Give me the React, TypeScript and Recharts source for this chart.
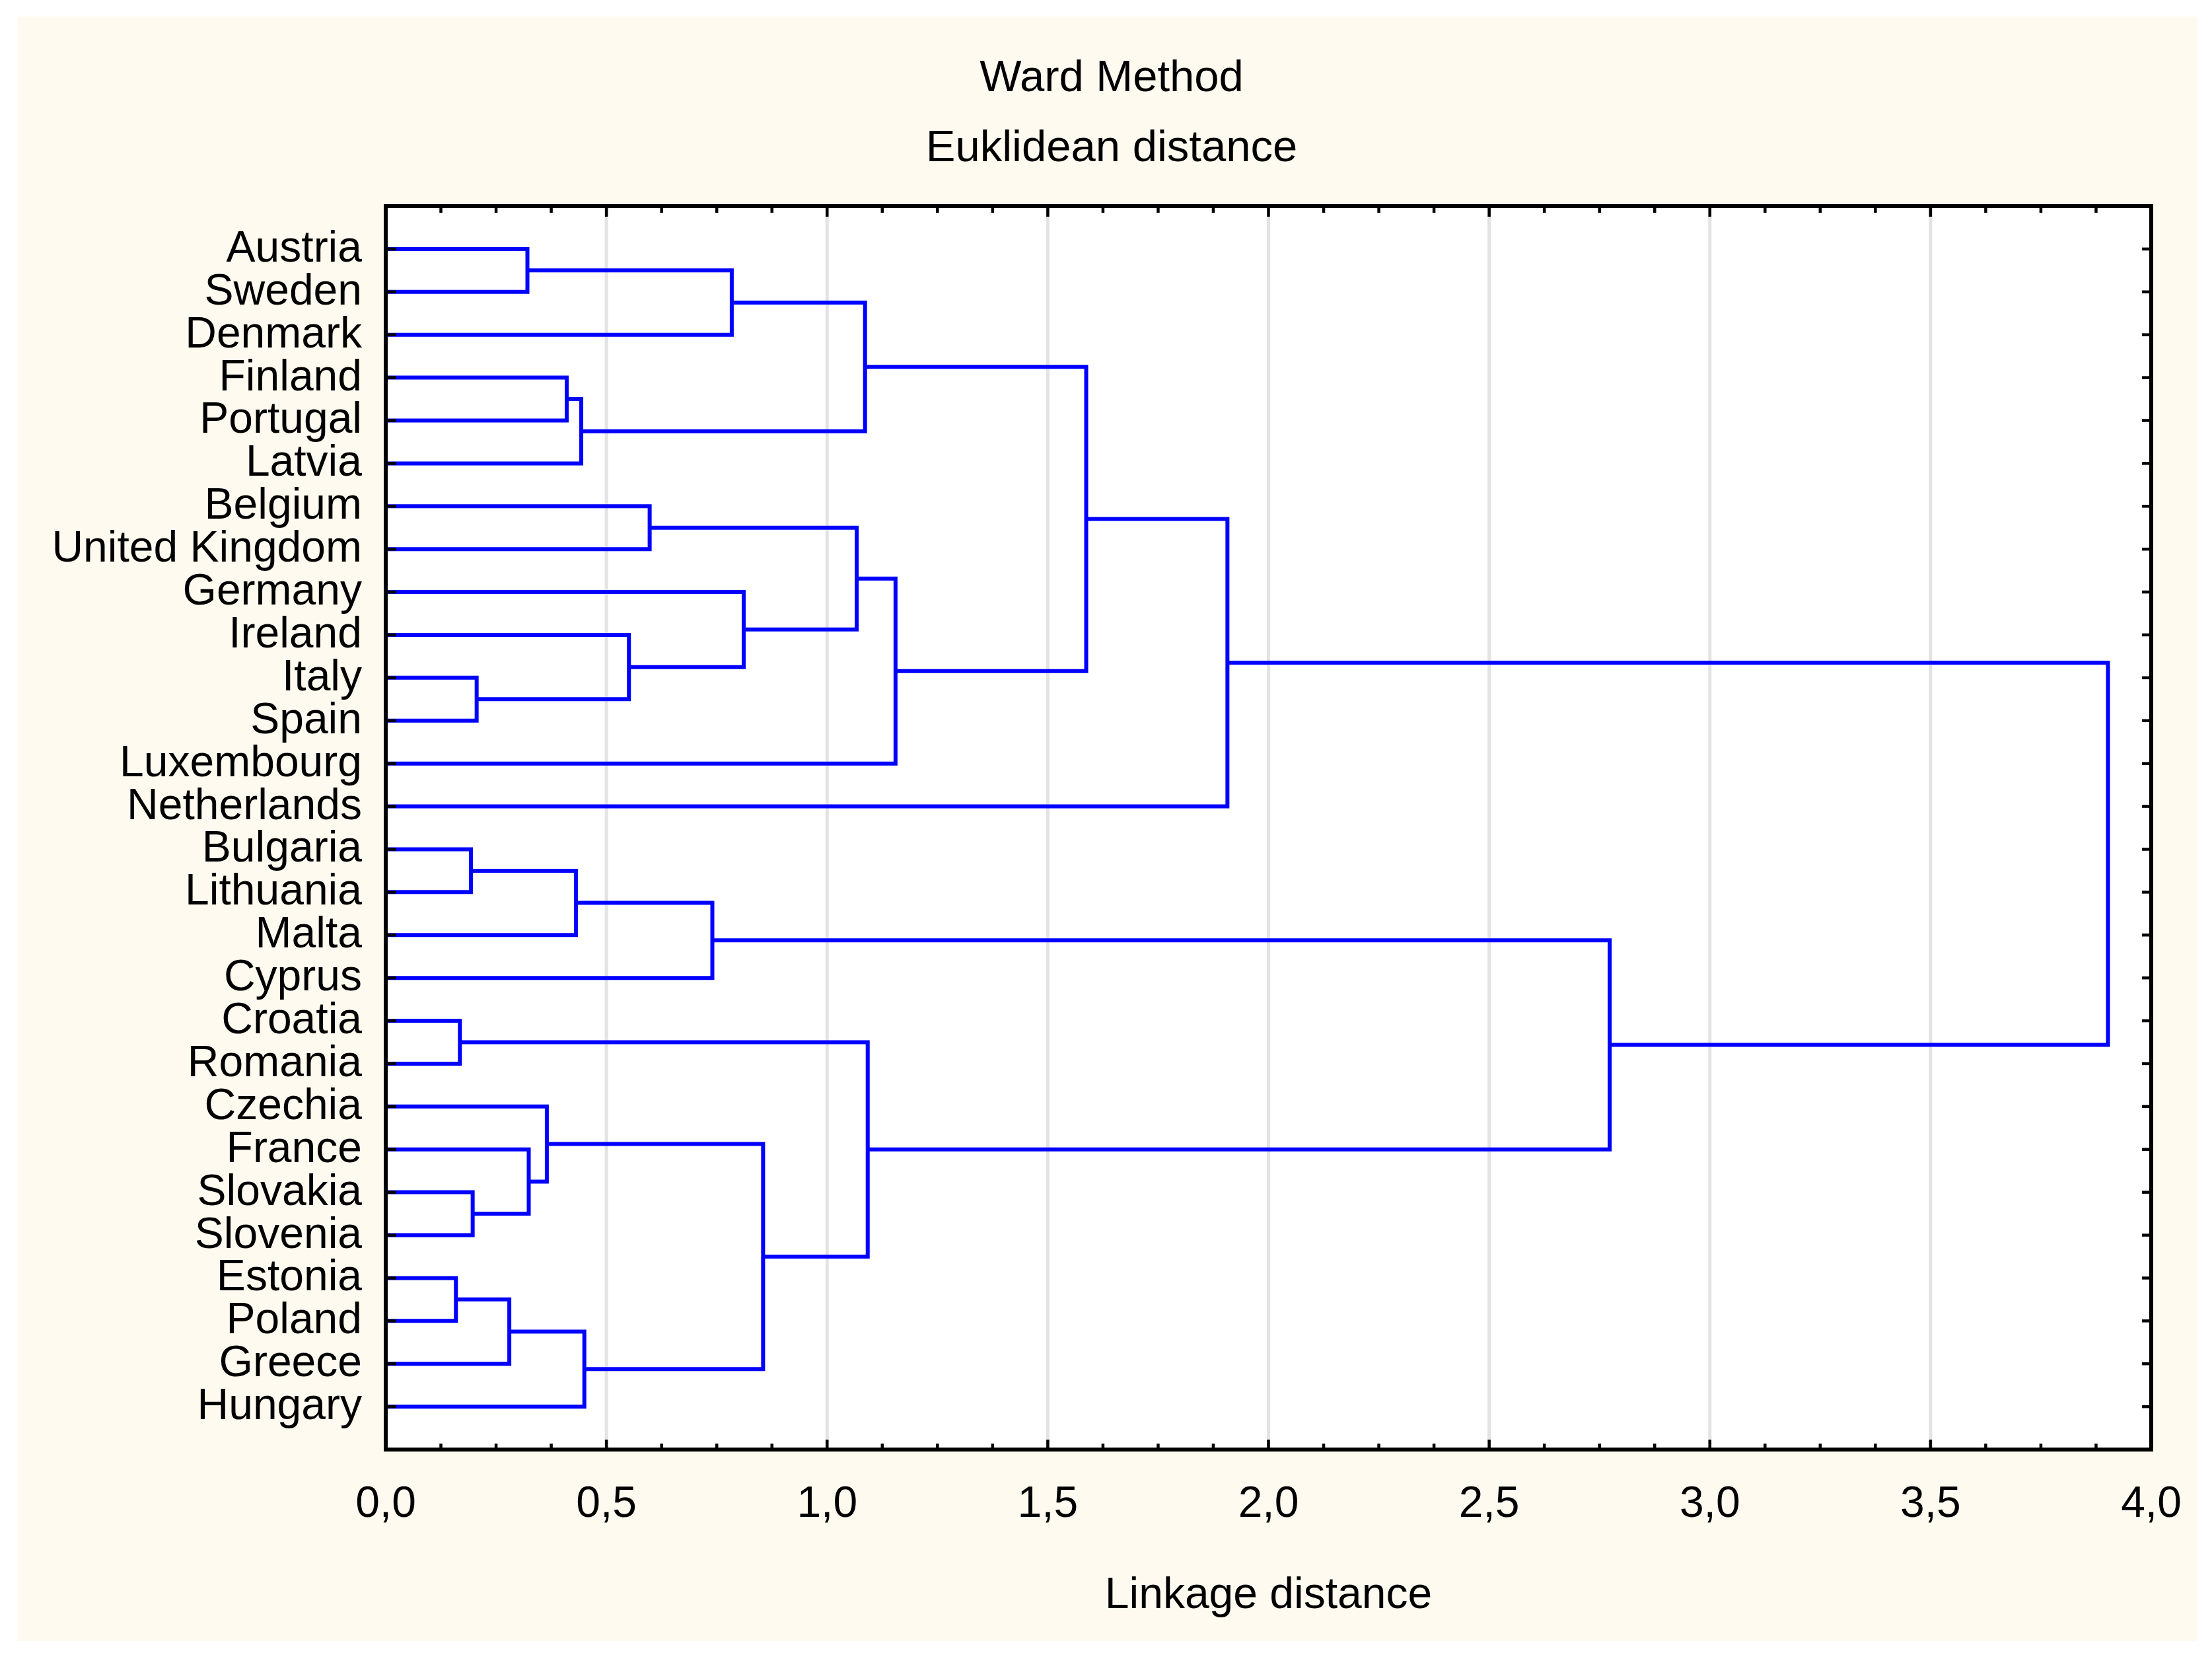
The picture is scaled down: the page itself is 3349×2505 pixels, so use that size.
import React from 'react';
import { ComposedChart, Line, XAxis, YAxis, ReferenceLine, CartesianGrid } from 'recharts';

// leaves, top to bottom
const countries = [
  'Austria', 'Sweden', 'Denmark', 'Finland', 'Portugal', 'Latvia', 'Belgium',
  'United Kingdom', 'Germany', 'Ireland', 'Italy', 'Spain', 'Luxembourg', 'Netherlands',
  'Bulgaria', 'Lithuania', 'Malta', 'Cyprus', 'Croatia', 'Romania', 'Czechia',
  'France', 'Slovakia', 'Slovenia', 'Estonia', 'Poland', 'Greece', 'Hungary',
];

// merges: node ids 0..27 are leaves, merge k creates node 28 + k
const mergeLeft = [0, 28, 3, 30, 29, 6, 10, 9, 8, 33, 37, 32, 39, 14, 41, 42, 18, 22, 21, 20, 24, 48, 49, 47, 44, 43, 40];
const mergeRight = [1, 2, 4, 5, 31, 7, 11, 34, 35, 36, 12, 38, 13, 15, 16, 17, 19, 23, 45, 46, 25, 26, 27, 50, 51, 52, 53];
const mergeHeight = [
  0.321, 0.784, 0.41, 0.443, 1.086, 0.598, 0.206, 0.551, 0.811, 1.067, 1.155, 1.587, 1.907,
  0.193, 0.431, 0.74, 0.168, 0.197, 0.324, 0.365, 0.159, 0.28, 0.45, 0.855, 1.092, 2.773, 3.902,
];

const xMajor = [0, 0.5, 1, 1.5, 2, 2.5, 3, 3.5, 4];
const xAllTicks = [
  0, 0.125, 0.25, 0.375, 0.5, 0.625, 0.75, 0.875, 1, 1.125, 1.25, 1.375, 1.5, 1.625, 1.75, 1.875,
  2, 2.125, 2.25, 2.375, 2.5, 2.625, 2.75, 2.875, 3, 3.125, 3.25, 3.375, 3.5, 3.625, 3.75, 3.875, 4,
];
const gridValues = [0.5, 1, 1.5, 2, 2.5, 3, 3.5];
const rowTicks = countries.map((_, i) => i + 1);

const FONT = "'Liberation Sans', Arial, sans-serif";
const FS = 66;

// build one U-shaped link per merge
const pos: number[] = countries.map((_, i) => i + 1);
const height: number[] = countries.map(() => 0);
const links = mergeLeft.map((l, k) => {
  const r = mergeRight[k];
  const h = mergeHeight[k];
  pos.push((pos[l] + pos[r]) / 2);
  height.push(h);
  return [
    { x: height[l], y: pos[l] },
    { x: h, y: pos[l] },
    { x: h, y: pos[r] },
    { x: height[r], y: pos[r] },
  ];
});

const fmt = (v: number) => v.toFixed(1).replace('.', ',');

const BottomTick = (props: any) => {
  const { x, y, payload } = props;
  const major = xMajor.includes(payload.value);
  return (
    <g>
      <line x1={x} x2={x} y1={y} y2={y - (major ? 15 : 9)} stroke="#000" strokeWidth={4.5} />
      {major && (
        <text x={x} y={y + 102} textAnchor="middle" fontSize={FS} fontFamily={FONT} fill="#000">
          {fmt(payload.value)}
        </text>
      )}
    </g>
  );
};

const TopTick = (props: any) => {
  const { x, y, payload } = props;
  const major = xMajor.includes(payload.value);
  return <line x1={x} x2={x} y1={y} y2={y + (major ? 16 : 10)} stroke="#000" strokeWidth={4.5} />;
};

const LeftTick = (props: any) => {
  const { x, y, payload } = props;
  return (
    <g>
      <line x1={x} x2={x + 16} y1={y} y2={y} stroke="#000" strokeWidth={4.5} />
      <text x={x - 36} y={y + 19} textAnchor="end" fontSize={FS} fontFamily={FONT} fill="#000">
        {countries[payload.value - 1]}
      </text>
    </g>
  );
};

const RightTick = (props: any) => {
  const { x, y } = props;
  return <line x1={x} x2={x - 14} y1={y} y2={y} stroke="#000" strokeWidth={4.5} />;
};

const XTitle = (props: any) => {
  const vb = props.viewBox;
  return (
    <text x={vb.x + vb.width / 2} y={vb.y + 240} textAnchor="middle" fontSize={FS} fontFamily={FONT} fill="#000">
      Linkage distance
    </text>
  );
};

const axisStyle = { stroke: '#000', strokeWidth: 6, strokeLinecap: 'square' as const };

export default function App() {
  return (
    <div style={{ position: 'absolute', left: 0, top: 0, width: 3349, height: 2505, background: '#ffffff' }}>
      <div style={{ position: 'absolute', left: 27, top: 25, width: 3300, height: 2459, background: '#fffaf0' }} />
      <svg style={{ position: 'absolute', left: 0, top: 0 }} width={3349} height={300}>
        <text x={1683} y={138} textAnchor="middle" fontSize={67} fontFamily={FONT} fill="#000">Ward Method</text>
        <text x={1683} y={244} textAnchor="middle" fontSize={67} fontFamily={FONT} fill="#000">Euklidean distance</text>
      </svg>
      <div style={{ position: 'absolute', left: 0, top: 0 }}>
        <ComposedChart width={3349} height={2505} margin={{ top: 282, right: 62, bottom: 61, left: 84 }}>
          <CartesianGrid horizontal={false} vertical={false} fill="#ffffff" />
          <XAxis
            xAxisId={0}
            dataKey="x"
            type="number"
            domain={[0, 4]}
            ticks={xAllTicks}
            interval={0}
            allowDataOverflow
            height={250}
            tickSize={0}
            tickMargin={0}
            axisLine={axisStyle}
            tickLine={false}
            tick={<BottomTick />}
            label={<XTitle />}
          />
          <XAxis
            xAxisId="top"
            orientation="top"
            dataKey="x"
            type="number"
            domain={[0, 4]}
            ticks={xAllTicks}
            interval={0}
            allowDataOverflow
            height={30}
            tickSize={0}
            tickMargin={0}
            axisLine={axisStyle}
            tickLine={false}
            tick={<TopTick />}
          />
          <YAxis
            yAxisId={0}
            type="number"
            domain={[0, 29]}
            reversed
            ticks={rowTicks}
            interval={0}
            allowDataOverflow
            width={500}
            tickSize={0}
            tickMargin={0}
            axisLine={axisStyle}
            tickLine={false}
            tick={<LeftTick />}
          />
          <YAxis
            yAxisId="right"
            orientation="right"
            type="number"
            domain={[0, 29]}
            reversed
            ticks={rowTicks}
            interval={0}
            allowDataOverflow
            width={30}
            tickSize={0}
            tickMargin={0}
            axisLine={axisStyle}
            tickLine={false}
            tick={<RightTick />}
          />
          {gridValues.map((v) => (
            <ReferenceLine key={'g' + v} x={v} xAxisId={0} yAxisId={0} stroke="#e3e3e3" strokeWidth={5} />
          ))}
          {links.map((seg, k) => (
            <Line
              key={'l' + k}
              data={seg}
              dataKey="y"
              xAxisId={0}
              yAxisId={0}
              type="linear"
              stroke="#0000ff"
              strokeWidth={6}
              strokeLinejoin="miter"
              dot={false}
              activeDot={false}
              legendType="none"
              isAnimationActive={false}
            />
          ))}
        </ComposedChart>
      </div>
    </div>
  );
}
